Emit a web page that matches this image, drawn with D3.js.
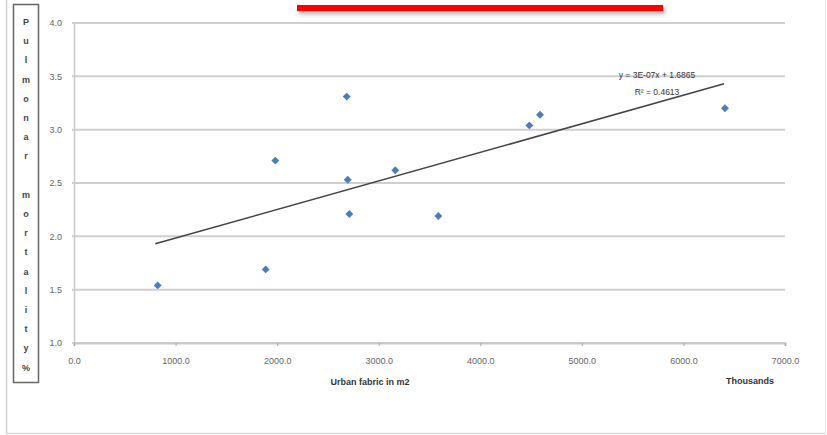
<!DOCTYPE html>
<html>
<head>
<meta charset="utf-8">
<script src="https://cdn.jsdelivr.net/npm/d3@7"></script>
<style>
  html, body { margin: 0; padding: 0; background: #fff; }
  svg { display: block; }
</style>
</head>
<body>
<svg id="chart" width="827" height="435"></svg>
<script>
// ---- data ----
const urbanFabric = [824, 1887, 1982, 2685, 2695, 2711, 3163, 3587, 4483, 4588, 6409]; // thousands of m2
const mortality   = [1.54, 1.69, 2.71, 3.31, 2.53, 2.21, 2.62, 2.19, 3.04, 3.14, 3.20]; // %
const trendX = [800, 6400];
const trendY = [1.93, 3.43];
const xTicks = [0, 1000, 2000, 3000, 4000, 5000, 6000, 7000];
const yTicks = [1.0, 1.5, 2.0, 2.5, 3.0, 3.5, 4.0];
const yLabelChars = ["P","u","l","m","o","n","a","r"," ","m","o","r","t","a","l","i","t","y","%"];
const equationLines = ["y = 3E-07x + 1.6865", "R² = 0.4613"];

const svg = d3.select("#chart");
const font = "Arial, 'Liberation Sans', sans-serif";

const x = d3.scaleLinear().domain([0, 7000]).range([74, 785]);
const y = d3.scaleLinear().domain([1, 4]).range([343, 23]);

// outer frame
svg.append("line").attr("x1", 6.5).attr("x2", 6.5).attr("y1", 0).attr("y2", 433.5).attr("stroke", "#d0d0d0").attr("stroke-width", 1.5);
svg.append("line").attr("x1", 6).attr("x2", 826).attr("y1", 433.5).attr("y2", 433.5).attr("stroke", "#d8d8d8").attr("stroke-width", 1.5);
svg.append("line").attr("x1", 825.5).attr("x2", 825.5).attr("y1", 0).attr("y2", 434).attr("stroke", "#e6e6e6").attr("stroke-width", 1);

// red title underline with shadow
const defs = svg.append("defs");
const f = defs.append("filter").attr("id", "sh").attr("x", "-10%").attr("y", "-100%").attr("width", "120%").attr("height", "400%");
f.append("feDropShadow").attr("dx", 2).attr("dy", 3).attr("stdDeviation", 2).attr("flood-color", "#000").attr("flood-opacity", 0.3);
svg.append("rect").attr("x", 297).attr("y", 5).attr("width", 366).attr("height", 6).attr("fill", "#ff0000").attr("filter", "url(#sh)");

// gridlines
svg.append("g").selectAll("line").data(yTicks).join("line")
  .attr("x1", x(0) - 2).attr("x2", x(7000))
  .attr("y1", d => y(d)).attr("y2", d => y(d))
  .attr("stroke", "#cfcfcf").attr("stroke-width", 2);

// y axis
const yAxis = svg.append("g").attr("transform", `translate(${x(0)},0)`)
  .call(d3.axisLeft(y).tickValues(yTicks).tickFormat(d3.format(".1f")).tickSize(0).tickPadding(12));
yAxis.select(".domain").attr("stroke", "#c8c8c8").attr("stroke-width", 1.5);
yAxis.selectAll("text").attr("font-family", font).attr("font-size", 9).attr("fill", "#666");

// x axis
const xAxis = svg.append("g").attr("transform", `translate(0,${y(1)})`)
  .call(d3.axisBottom(x).tickValues(xTicks).tickFormat(d3.format(".1f")).tickSize(3).tickPadding(12));
xAxis.select(".domain").attr("stroke", "#c8c8c8").attr("stroke-width", 2);
xAxis.selectAll(".tick line").attr("stroke", "#aaa");
xAxis.selectAll("text").attr("font-family", font).attr("font-size", 9).attr("fill", "#666");

// y label box
svg.append("rect").attr("x", 13.5).attr("y", 4.5).attr("width", 25).attr("height", 378)
  .attr("fill", "none").attr("stroke", "#666").attr("stroke-width", 1.5);
svg.append("g").selectAll("text").data(yLabelChars).join("text")
  .attr("x", 26).attr("y", (d, i) => 25 + i * 19.2)
  .attr("text-anchor", "middle").attr("font-family", font).attr("font-size", 9).attr("font-weight", "bold").attr("fill", "#444")
  .text(d => d);

// axis titles
svg.append("text").attr("x", 370).attr("y", 385).attr("text-anchor", "middle")
  .attr("font-family", font).attr("font-size", 9).attr("font-weight", "bold").attr("fill", "#333").text("Urban fabric in m2");
svg.append("text").attr("x", 750).attr("y", 384).attr("text-anchor", "middle")
  .attr("font-family", font).attr("font-size", 9).attr("font-weight", "bold").attr("fill", "#333").text("Thousands");

// trend line
svg.append("line")
  .attr("x1", x(trendX[0])).attr("y1", y(trendY[0]))
  .attr("x2", x(trendX[1])).attr("y2", y(trendY[1]))
  .attr("stroke", "#444").attr("stroke-width", 1.6);

// equation
svg.append("g").selectAll("text").data(equationLines).join("text")
  .attr("x", (d, i) => i === 0 ? 657 : 657).attr("y", (d, i) => 78 + i * 17)
  .attr("text-anchor", "middle").attr("font-family", font).attr("font-size", 8.5).attr("fill", "#333")
  .text(d => d);

// points
const sym = d3.symbol().type(d3.symbolDiamond2 || d3.symbolDiamond).size(40);
svg.append("g").selectAll("path").data(urbanFabric.map((v, i) => [v, mortality[i]])).join("path")
  .attr("transform", d => `translate(${x(d[0])},${y(d[1])})`)
  .attr("d", sym)
  .attr("fill", "#4a7ebb");
</script>
</body>
</html>
